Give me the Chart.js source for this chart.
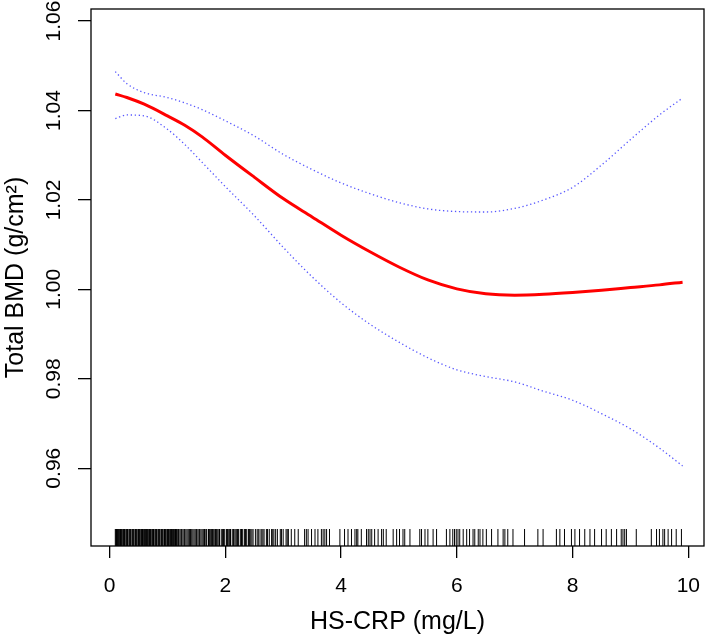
<!DOCTYPE html>
<html>
<head>
<meta charset="utf-8">
<script src="https://cdn.jsdelivr.net/npm/chart.js@4"></script>
<style>
  body { margin: 0; background: #fff; }
</style>
</head>
<body>
<canvas id="chart" width="708" height="636"></canvas>
<script>
// ---- data ----
const curveX = [0.1, 0.3, 0.6, 1.0, 1.3, 1.6, 2.0, 2.5, 3.0, 3.5, 4.0, 4.5, 5.0, 5.5, 6.0, 6.5, 7.0, 7.5, 8.0, 8.5, 9.0, 9.5, 9.9];
const fitBMD = [1.0437, 1.0429, 1.0414, 1.0388, 1.0367, 1.0341, 1.0300, 1.0251, 1.0203, 1.0162, 1.0121, 1.0084, 1.0050, 1.0021, 1.0001, 0.9990, 0.9987, 0.9989, 0.9993, 0.9998, 1.0004, 1.0010, 1.0016];
const upperCI = [1.0487, 1.0460, 1.0440, 1.0429, 1.0417, 1.0402, 1.0377, 1.0343, 1.0302, 1.0268, 1.0238, 1.0214, 1.0194, 1.0180, 1.0174, 1.0173, 1.0181, 1.0200, 1.0228, 1.0278, 1.0335, 1.0390, 1.0428];
const lowerCI = [1.0382, 1.0390, 1.0388, 1.0358, 1.0324, 1.0284, 1.0230, 1.0165, 1.0094, 1.0028, 0.9970, 0.9922, 0.9882, 0.9847, 0.9820, 0.9805, 0.9793, 0.9772, 0.9752, 0.9722, 0.9688, 0.9645, 0.9605];

// rug of observed HS-CRP values
const rugValues = [
  0.10, 0.11, 0.12, 0.13, 0.14, 0.15, 0.16, 0.17, 0.19, 0.20, 0.21, 0.22, 0.24, 0.25, 0.26, 0.27, 0.29, 0.30, 0.31, 0.32,
  0.34, 0.35, 0.36, 0.37, 0.39, 0.40, 0.41, 0.42, 0.44, 0.45, 0.46, 0.47, 0.49, 0.50, 0.51, 0.52, 0.54, 0.55, 0.56, 0.57,
  0.59, 0.60, 0.61, 0.62, 0.64, 0.65, 0.66, 0.67, 0.69, 0.70, 0.71, 0.72, 0.74, 0.75, 0.76, 0.77, 0.79, 0.80, 0.81, 0.82,
  0.84, 0.85, 0.86, 0.87, 0.89, 0.90, 0.91, 0.92, 0.94, 0.95, 0.96, 0.97, 0.99, 1.00, 1.01, 1.02, 1.04, 1.05, 1.06, 1.07,
  1.09, 1.10, 1.11, 1.12, 1.14, 1.15, 1.16, 1.17, 1.19, 1.20, 1.22, 1.24, 1.25, 1.27, 1.29, 1.30, 1.32, 1.34, 1.36, 1.38,
  1.40, 1.42, 1.44, 1.46, 1.48, 1.50, 1.51, 1.53, 1.55, 1.56, 1.58, 1.60, 1.62, 1.64, 1.65, 1.67, 1.68, 1.71, 1.73, 1.74,
  1.76, 1.78, 1.80, 1.82, 1.83, 1.85, 1.87, 1.89, 1.90, 1.93, 1.95, 1.97, 1.99, 2.02, 2.04, 2.05, 2.07, 2.09, 2.12, 2.14,
  2.15, 2.17, 2.19, 2.21, 2.23, 2.26, 2.28, 2.30, 2.33, 2.35, 2.37, 2.40, 2.42, 2.44, 2.46, 2.48, 2.52, 2.55, 2.57, 2.60,
  2.63, 2.65, 2.67, 2.71, 2.73, 2.76, 2.80, 2.82, 2.84, 2.87, 2.90, 2.95, 2.97, 3.00, 3.05, 3.07, 3.09,
  3.14, 3.20, 3.26, 3.37, 3.40, 3.43, 3.49, 3.55, 3.60, 3.66, 3.69, 3.72, 3.75, 3.80, 3.98, 4.06, 4.12, 4.18, 4.24, 4.27,
  4.29, 4.35, 4.44, 4.47, 4.50, 4.53, 4.58, 4.64, 4.70, 4.73, 4.78, 4.90, 4.96, 5.01, 5.07, 5.10, 5.19, 5.36, 5.39, 5.45,
  5.50, 5.59, 5.65, 5.82, 5.88, 5.93, 5.96, 5.99, 6.02, 6.05, 6.11, 6.17, 6.22, 6.28, 6.31, 6.37, 6.40, 6.45, 6.51,
  6.60, 6.71, 6.80, 6.83, 6.88, 6.97, 7.17, 7.40, 7.49, 7.72, 7.78, 7.86, 7.98, 8.04, 8.12, 8.21, 8.30, 8.38, 8.50, 8.58,
  8.67, 8.76, 8.84, 8.87, 8.90, 8.93, 9.10, 9.36, 9.45, 9.50, 9.56, 9.59, 9.65, 9.71, 9.79, 9.88
];

const xTicks = [0, 2, 4, 6, 8, 10];
const yTicks = [0.96, 0.98, 1.00, 1.02, 1.04, 1.06];

const FONT = "'Liberation Sans', Arial, sans-serif";

const toPts = ys => curveX.map((x, i) => ({ x: x, y: ys[i] }));

// box, rug and rotated y labels like base R
const rStyle = {
  id: 'rStyle',
  afterDraw(chart) {
    const { ctx, chartArea: a, scales: { x, y } } = chart;
    ctx.save();
    // rug
    ctx.strokeStyle = '#000';
    ctx.lineWidth = 1;
    ctx.beginPath();
    rugValues.forEach(v => {
      const px = x.getPixelForValue(v);
      ctx.moveTo(px, a.bottom);
      ctx.lineTo(px, a.bottom - 17);
    });
    ctx.stroke();
    // box
    ctx.lineWidth = 1.3;
    ctx.strokeRect(a.left, a.top, a.right - a.left, a.bottom - a.top);
    // y tick labels, turned
    ctx.fillStyle = '#000';
    ctx.font = '21px ' + FONT;
    ctx.textAlign = 'center';
    ctx.textBaseline = 'middle';
    yTicks.forEach(v => {
      ctx.save();
      ctx.translate(54, y.getPixelForValue(v));
      ctx.rotate(-Math.PI / 2);
      ctx.fillText(v.toFixed(2), 0, 0);
      ctx.restore();
    });
    ctx.restore();
  }
};

new Chart(document.getElementById('chart'), {
  type: 'line',
  data: {
    datasets: [
      {
        data: toPts(upperCI),
        borderColor: 'rgba(30,30,255,0.75)',
        borderWidth: 1.3,
        borderDash: [1.3, 2.7],
        cubicInterpolationMode: 'monotone'
      },
      {
        data: toPts(lowerCI),
        borderColor: 'rgba(30,30,255,0.75)',
        borderWidth: 1.3,
        borderDash: [1.3, 2.7],
        cubicInterpolationMode: 'monotone'
      },
      {
        data: toPts(fitBMD),
        borderColor: '#ff0000',
        borderWidth: 3,
        cubicInterpolationMode: 'monotone'
      }
    ]
  },
  options: {
    responsive: false,
    animation: false,
    layout: { padding: { top: 9, right: 4, left: 0, bottom: 0 } },
    elements: { point: { radius: 0 } },
    plugins: { legend: { display: false }, tooltip: { enabled: false } },
    scales: {
      x: {
        type: 'linear',
        min: -0.32,
        max: 10.27,
        afterBuildTicks: s => { s.ticks = xTicks.map(v => ({ value: v })); },
        afterFit: s => { s.height = 90; s.paddingLeft = 0; s.paddingRight = 0; },
        border: { display: false },
        grid: { drawOnChartArea: false, tickLength: 12, color: '#000', lineWidth: 1.3 },
        ticks: { color: '#000', padding: 18, font: { family: FONT, size: 21, lineHeight: 1 } },
        title: {
          display: true,
          text: 'HS-CRP (mg/L)',
          color: '#000',
          font: { family: FONT, size: 25, lineHeight: 1 },
          padding: { top: 0, bottom: 1 }
        }
      },
      y: {
        type: 'linear',
        min: 0.9426,
        max: 1.0627,
        afterBuildTicks: s => { s.ticks = yTicks.map(v => ({ value: v })); },
        afterFit: s => { s.width = 91; s.paddingTop = 0; s.paddingBottom = 0; },
        border: { display: false },
        grid: { drawOnChartArea: false, tickLength: 13, color: '#000', lineWidth: 1.3 },
        ticks: { display: false },
        title: {
          display: true,
          text: 'Total BMD (g/cm²)',
          color: '#000',
          font: { family: FONT, size: 25, lineHeight: 1 },
          padding: { top: 4, bottom: 0 }
        }
      }
    }
  },
  plugins: [rStyle]
});
</script>
</body>
</html>
